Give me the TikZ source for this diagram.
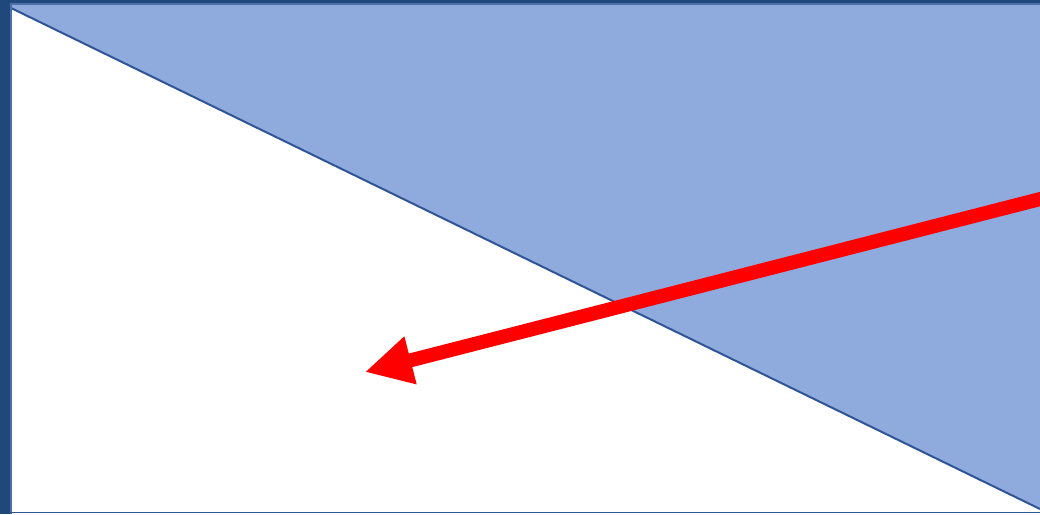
\documentclass[tikz,border=0pt]{standalone}
\usepackage{xcolor}
\usepackage{tikz}
\usetikzlibrary{arrows.meta}
\definecolor{frameblue}{RGB}{31,73,125}
\definecolor{edgeblue}{RGB}{47,85,151}
\definecolor{fillblue}{RGB}{143,170,220}
\definecolor{myred}{RGB}{255,0,0}

\begin{document}
\begin{tikzpicture}[x=0.02cm, y=-0.02cm]
  \useasboundingbox (0,0) rectangle (1040,514);
  \clip (0,0) rectangle (1040,514);
  \fill[white] (0,0) rectangle (1040,514);
  \fill[fillblue] (11,4.5) -- (1040,4.5) -- (1040,509) -- (11,8) -- cycle;
  \draw[edgeblue, line width=0.04cm] (11,8) -- (1040,509);
  % frame
  \fill[frameblue] (0,0) rectangle (10,514);
  \fill[frameblue] (0,0) rectangle (1040,3);
  \draw[edgeblue!85, line width=0.035cm] (10.8,514) -- (10.8,4) -- (1040,4);
  \draw[edgeblue, line width=0.035cm] (10,512.5) -- (1040,512.5);
  % arrow
  \coordinate (start) at (1052,196);
  \coordinate (tip) at (365,372);
  \draw[myred, line width=0.28cm, -{Triangle[length=0.94cm,width=0.92cm]}] (start) -- (tip);
\end{tikzpicture}
\end{document}
